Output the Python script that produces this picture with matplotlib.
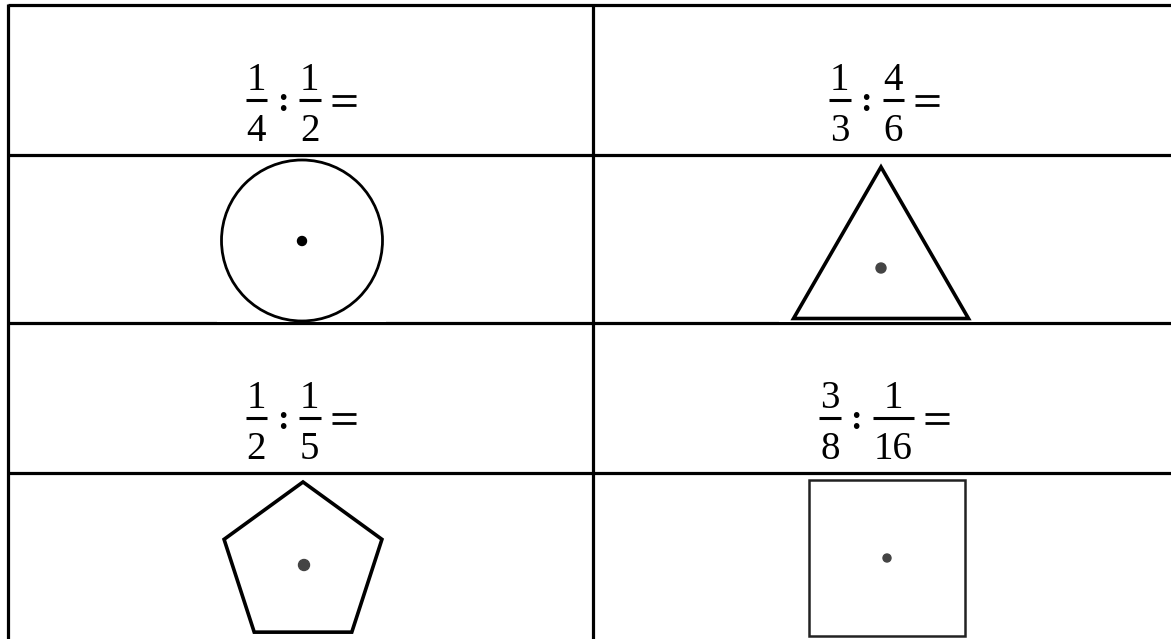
import matplotlib
matplotlib.use("Agg")
import matplotlib.pyplot as plt
from matplotlib.patches import Circle, RegularPolygon
import numpy as np

# table layout (pixel units)
col_edges = [8, 593, 1171]
row_edges = [5, 155, 323, 473, 639]

# fraction tasks, one per text cell
task_rows = [0, 0, 2, 2]
task_cols = [0, 1, 0, 1]
numer_left = ["1", "1", "1", "3"]
denom_left = ["4", "3", "2", "8"]
numer_right = ["1", "4", "1", "1"]
denom_right = ["2", "6", "5", "16"]

# shapes: kind, centre, size, dot
shape_kinds = ["circle", "triangle", "pentagon", "square"]
shape_cx = [302, 881, 303, 887]
shape_cy = [240.5, 268, 565, 558]
shape_r = [80.5, 101, 83, 111]
dot_x = [302, 881, 304, 887]
dot_y = [241, 268, 565, 558]
dot_r = [4.5, 5, 5.5, 4]
shape_lw = [2.0, 2.6, 2.6, 1.8]
dot_color = ["#000000", "#444444", "#444444", "#444444"]

W, H = 1171, 639
fig = plt.figure(figsize=(W / 100, H / 100), dpi=100)
ax = fig.add_axes([0, 0, 1, 1])
ax.set_xlim(0, W)
ax.set_ylim(H, 0)
ax.axis("off")

FONT = "Liberation Serif"
FS = 28
DIGIT_W = 19.5


def draw_fraction(x0, ybar, num, den):
    w = max(len(num), len(den)) * DIGIT_W + 2
    xc = x0 + w / 2
    ax.plot([x0, x0 + w], [ybar, ybar], color="black", lw=2.2, solid_capstyle="butt")
    ax.text(xc, ybar - 10, num, ha="center", va="baseline", fontsize=FS, family=FONT)
    ax.text(xc, ybar + 41, den, ha="center", va="baseline", fontsize=FS, family=FONT)
    return w


lw = 2.3
for y in row_edges[:-1]:
    ax.plot([col_edges[0], W + 5], [y, y], color="black", lw=lw, solid_capstyle="butt")
for x in col_edges[:-1]:
    ax.plot([x, x], [row_edges[0] - 1, H + 5], color="black", lw=lw, solid_capstyle="butt")

# pasted shape images cover part of the rule under row 2
ax.add_patch(plt.Rectangle((217, 319), 169, 3, color="white", lw=0, zorder=3))
ax.add_patch(plt.Rectangle((779, 319), 211, 3, color="white", lw=0, zorder=3))

for r, c, a, b, cc, d in zip(task_rows, task_cols, numer_left, denom_left, numer_right, denom_right):
    w1 = max(len(a), len(b)) * DIGIT_W + 2
    w2 = max(len(cc), len(d)) * DIGIT_W + 2
    total = w1 + 14 + 3 + 15 + w2 + 11 + 24
    xc = (col_edges[c] + col_edges[c + 1]) / 2 + (2 if c == 1 else 0)
    x = xc - total / 2
    ybar = row_edges[r] + 95
    draw_fraction(x, ybar, a, b)
    x += w1 + 14
    ax.text(x + 1.5, ybar + 11, ":", ha="center", va="baseline", fontsize=25,
            family=FONT, fontweight="bold")
    x += 3 + 15
    draw_fraction(x, ybar, cc, d)
    x += w2 + 11
    ax.plot([x, x + 24], [ybar - 4, ybar - 4], color="black", lw=2.0, solid_capstyle="butt")
    ax.plot([x, x + 24], [ybar + 5, ybar + 5], color="black", lw=2.0, solid_capstyle="butt")

for kind, cx, cy, rr, dx, dy, dr, slw, dc in zip(shape_kinds, shape_cx, shape_cy, shape_r,
                                                  dot_x, dot_y, dot_r, shape_lw, dot_color):
    if kind == "circle":
        p = Circle((cx, cy), rr, fill=False, ec="black", lw=slw)
    elif kind == "triangle":
        p = RegularPolygon((cx, cy), 3, radius=rr, orientation=np.pi, fill=False, ec="black", lw=slw)
    elif kind == "pentagon":
        p = RegularPolygon((cx, cy), 5, radius=rr, orientation=np.pi, fill=False, ec="black", lw=slw)
    else:
        p = RegularPolygon((cx, cy), 4, radius=rr, orientation=np.pi / 4, fill=False, ec="#222222", lw=slw)
    p.set_zorder(4)
    ax.add_patch(p)
    ax.add_patch(Circle((dx, dy), dr, color=dc, zorder=5))

fig.savefig("out.png", dpi=100)
